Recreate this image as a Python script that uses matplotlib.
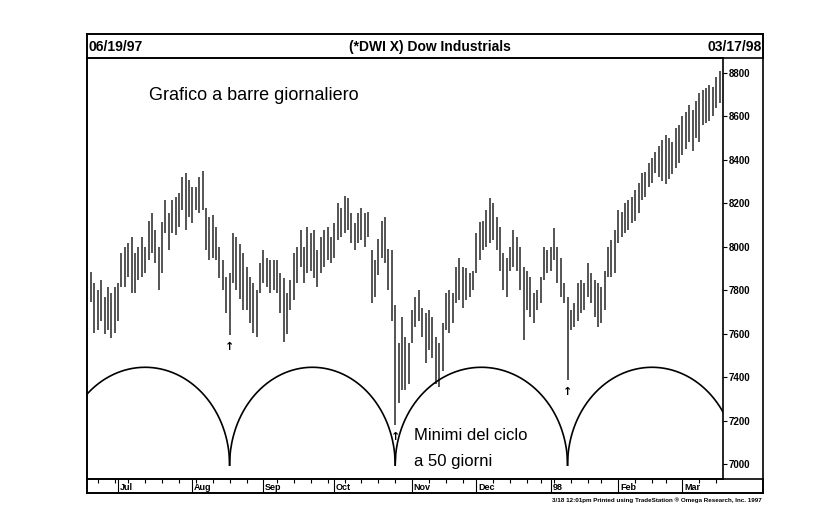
import numpy as np
import pandas as pd
import matplotlib
matplotlib.use("Agg")
import matplotlib.pyplot as plt

plt.rcParams['font.family'] = ['Liberation Sans', 'DejaVu Sans']

# Trading days 06/19/97 - 03/17/98 (US market holidays removed)
holidays = ['1997-07-04', '1997-09-01', '1997-11-27', '1997-12-25',
            '1998-01-01', '1998-01-19', '1998-02-16']
dates = pd.bdate_range('1997-06-19', '1998-03-17')
dates = dates[~dates.isin(pd.to_datetime(holidays))]

# Daily highs / lows
highs = [7885, 7835, 7800, 7845, 7770, 7815, 7785, 7815, 7835, 7970,
         8000, 8015, 8045, 7970, 8000, 8045, 8000, 8120, 8155, 8075,
         8000, 8115, 8215, 8155, 8215, 8230, 8245, 8320, 8340, 8305,
         8275, 8275, 8320, 8350, 8180, 8135, 8145, 8090, 8000, 7940,
         7860, 7880, 8065, 8045, 8010, 7970, 7905, 7860, 7835, 7800,
         7925, 7985, 7950, 7940, 7940, 7940, 7880, 7855, 7785, 7845,
         7970, 8000, 8075, 8000, 8090, 8065, 8075, 7985, 8045, 8075,
         8090, 8045, 8110, 8200, 8180, 8235, 8225, 8155, 8110, 8155,
         8180, 8155, 8160, 7985, 7940, 8035, 8120, 8135, 7990, 7985,
         7730, 7555, 7675, 7585, 7555, 7710, 7770, 7800, 7720, 7695,
         7710, 7675, 7585, 7555, 7650, 7785, 7800, 7785, 7905, 7950,
         7905, 7900, 7880, 7890, 8065, 8115, 8120, 8170, 8225, 8200,
         8135, 8090, 7970, 7950, 8000, 8075, 8045, 8000, 7905, 7890,
         7860, 7785, 7800, 7860, 8000, 7985, 8000, 8085, 8000, 7950,
         7835, 7770, 7710, 7740, 7835, 7845, 7835, 7925, 7880, 7845,
         7835, 7815, 7890, 8000, 8030, 8075, 8170, 8160, 8200, 8215,
         8230, 8260, 8295, 8340, 8345, 8385, 8410, 8435, 8465, 8490,
         8515, 8500, 8480, 8545, 8560, 8600, 8620, 8650, 8630, 8670,
         8705, 8720, 8730, 8745, 8735, 8780, 8810]
lows = [7745, 7605, 7615, 7660, 7600, 7615, 7580, 7605, 7660, 7815,
        7815, 7860, 7785, 7785, 7845, 7860, 7880, 7940, 7970, 7925,
        7800, 7880, 8065, 7985, 8065, 8055, 8090, 8170, 8075, 8135,
        8110, 8170, 8155, 8170, 7985, 7940, 7950, 7940, 7855, 7800,
        7695, 7595, 7835, 7800, 7760, 7710, 7710, 7650, 7605, 7585,
        7785, 7835, 7815, 7785, 7800, 7785, 7695, 7560, 7600, 7710,
        7755, 7835, 7905, 7835, 7880, 7890, 7855, 7815, 7880, 7905,
        7940, 7925, 7950, 8030, 8045, 8065, 8075, 8015, 7985, 8015,
        8030, 8000, 8045, 7740, 7770, 7870, 7950, 7925, 7800, 7660,
        7180, 7280, 7340, 7340, 7370, 7555, 7630, 7660, 7585, 7465,
        7525, 7490, 7370, 7355, 7430, 7615, 7605, 7650, 7740, 7755,
        7720, 7755, 7770, 7800, 7880, 7940, 7985, 8000, 8015, 8030,
        7985, 7890, 7800, 7770, 7890, 7905, 7890, 7800, 7570, 7710,
        7675, 7650, 7710, 7740, 7845, 7880, 7890, 7940, 7835, 7770,
        7740, 7385, 7615, 7630, 7660, 7695, 7710, 7770, 7740, 7675,
        7630, 7650, 7710, 7860, 7860, 7880, 8015, 8045, 8065, 8075,
        8110, 8120, 8155, 8215, 8230, 8275, 8295, 8340, 8320, 8300,
        8290, 8310, 8335, 8360, 8385, 8420, 8450, 8480, 8440, 8500,
        8480, 8560, 8570, 8580, 8600, 8640, 8660]

month_names = ['Jul', 'Aug', 'Sep', 'Oct', 'Nov', 'Dec', '98', 'Feb', 'Mar']
price_ticks = [7000, 7200, 7400, 7600, 7800, 8000, 8200, 8400, 8600, 8800]

# 50 day cycle: bar index of each marked low
cycle_lows = [41, 90, 141]
cycle_len = 50
arc_base, arc_top = 6995, 7445

x = np.arange(len(dates))
month_idx = np.flatnonzero(dates.month != np.roll(dates.month, 1))[1:]
week_idx = np.flatnonzero(np.diff(dates.weekday) < 0) + 1

W, H = 816, 524
fig = plt.figure(figsize=(W / 100, H / 100), dpi=100)


def box(x0, y0, x1, y1):
    # pixel box (top-left origin) -> figure fraction rect
    return [x0 / W, 1 - y1 / H, (x1 - x0) / W, (y1 - y0) / H]


# outer frame
frame = fig.add_axes(box(87, 34, 763, 493))
frame.set_xticks([])
frame.set_yticks([])
for s in frame.spines.values():
    s.set_linewidth(1.2)

# header strip
head = fig.add_axes(box(87, 34, 763, 58))
head.set_xticks([])
head.set_yticks([])
head.patch.set_alpha(0)
for s in head.spines.values():
    s.set_linewidth(1.2)
head.text(0.002, 0.45, '06/19/97', ha='left', va='center', fontsize=10, fontweight='bold', transform=head.transAxes)
head.text(0.507, 0.45, '(*DWI X) Dow Industrials', ha='center', va='center', fontsize=10, fontweight='bold', transform=head.transAxes)
head.text(0.998, 0.45, '03/17/98', ha='right', va='center', fontsize=10, fontweight='bold', transform=head.transAxes)

# main price panel
ax = fig.add_axes(box(87, 58, 723, 479))
ax.patch.set_alpha(0)
ax.vlines(x, lows, highs, color='#262626', linewidth=1.1)

# cycle arcs
bounds = [cycle_lows[0] - cycle_len] + cycle_lows + [cycle_lows[-1] + cycle_len]
for a, b in zip(bounds[:-1], bounds[1:]):
    t = np.linspace(a, b, 300)
    c, r = (a + b) / 2, (b - a) / 2
    yy = arc_base + (arc_top - arc_base) * np.sqrt(np.clip(1 - ((t - c) / r) ** 2, 0, 1))
    ax.plot(t, yy, color='black', linewidth=1.2)

# little arrows under the cycle lows
for i in cycle_lows:
    ax.annotate('↑', xy=(i, lows[i]), xytext=(0, -5), textcoords='offset points',
                ha='center', va='top', fontsize=8, fontweight='bold', family='DejaVu Sans')

ax.text(17.2, 8695, 'Grafico a barre giornaliero', fontsize=13, va='center', ha='left')
ax.text(95.5, 7130, 'Minimi del ciclo', fontsize=12, va='center', ha='left')
ax.text(95.5, 7010, 'a 50 giorni', fontsize=12, va='center', ha='left')

ax.set_xlim(-1.2, 187.0)
ax.set_ylim(6931, 8868)
ax.set_xticks([])
ax.yaxis.tick_right()
ax.set_yticks(price_ticks)
ax.set_yticklabels([str(v) for v in price_ticks])
ax.tick_params(axis='y', direction='out', length=3, width=0.8, pad=1, labelsize=7)
for lab in ax.get_yticklabels():
    lab.set_fontweight('bold')
for s in ax.spines.values():
    s.set_linewidth(1.2)

# date strip
dax = fig.add_axes(box(87, 479, 763, 493))
dax.patch.set_alpha(0)
dax.set_xlim(-1.2, -1.2 + (187.0 + 1.2) * (763 - 87) / (723 - 87))
dax.set_ylim(0, 1)
dax.set_yticks([])
dax.set_xticks(month_idx)
dax.set_xticks(week_idx, minor=True)
dax.tick_params(axis='x', which='both', top=True, bottom=False, labelbottom=False, direction='in', width=0.8)
dax.tick_params(axis='x', which='major', length=9)
dax.tick_params(axis='x', which='minor', length=3)
for i, name in zip(month_idx, month_names):
    dax.text(i + 0.5, 0.05, name, ha='left', va='bottom', fontsize=6.5, fontweight='bold')
for s in dax.spines.values():
    s.set_linewidth(1.2)

fig.text(762 / W, 1 - 500 / H, '3/18 12:01pm Printed using TradeStation \u00ae Omega Research, Inc. 1997',
         ha='right', va='center', fontsize=4.5, fontweight='bold')

fig.savefig('out.png', dpi=100)
